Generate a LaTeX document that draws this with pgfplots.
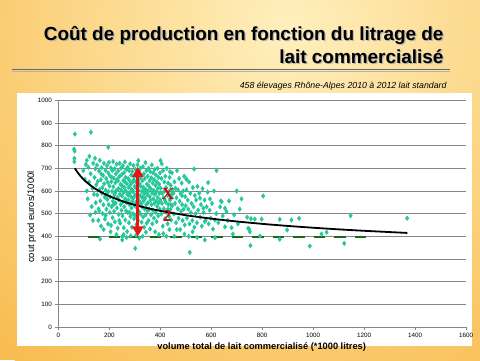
\documentclass[border=0pt]{standalone}
\usepackage{pgfplots}
\pgfplotsset{compat=1.18}
\usepackage{fontspec}
\setmainfont{Liberation Sans}
\newfontfamily\seriffont{Liberation Serif}
\usetikzlibrary{arrows.meta}
\definecolor{turq}{RGB}{38,200,155}
\definecolor{dgreen}{RGB}{25,105,25}
\definecolor{gridgray}{RGB}{134,134,134}
\definecolor{bgorange}{RGB}{248,188,80}
\definecolor{bglight}{RGB}{255,240,190}
\definecolor{arrred}{RGB}{235,20,20}
\definecolor{txtred}{RGB}{200,10,10}
\pgfplotsset{myframe/.style={
  at={(58.3bp,33bp)}, anchor=south west,
  scale only axis, width=407.7bp, height=226.7bp,
  xmin=0, xmax=1600, ymin=0, ymax=1000, clip=false}}
\begin{document}
\begin{tikzpicture}[x=1bp,y=1bp]
\begin{scope}
\clip (0,0) rectangle (480,360);
\fill[bgorange] (0,0) rectangle (480,360);
\shade[inner color=bglight, outer color=bgorange] (290,330) circle (430);
\end{scope}
% title
\node[anchor=base east, font=\bfseries\fontsize{19}{20}\selectfont, text=black!30] at (448.2,318.8) {Coût de production en fonction du litrage de};
\node[anchor=base east, font=\bfseries\fontsize{19}{20}\selectfont, text=black!30] at (448.2,295.8) {lait commercialisé};
\node[anchor=base east, font=\bfseries\fontsize{19}{20}\selectfont] at (447,320) {Coût de production en fonction du litrage de};
\node[anchor=base east, font=\bfseries\fontsize{19}{20}\selectfont] at (447,297) {lait commercialisé};
\draw[line width=1.4bp, black!60] (12,290.6) -- (450,290.6);
\draw[line width=0.9bp, black!30] (12,289.0) -- (450,289.0);
\node[anchor=base east, font=\itshape\fontsize{8.8}{10}\selectfont] at (450,272) {458 élevages Rhône-Alpes 2010 à 2012 lait standard};
\fill[white] (17,14) rectangle (472,267);
\node[rotate=90, font=\fontsize{9.5}{10}\selectfont] at (31.7,143) {cout prod euros/1000l};
\node[font=\bfseries\fontsize{9.3}{10}\selectfont] at (261.7,13) {volume total de lait commercialisé (*1000 litres)};
\begin{axis}[
  myframe,
  xtick={0,200,...,1600}, ytick={0,100,...,1000},
  axis x line=bottom, axis y line=left,
  axis line style={-, gridgray, line width=0.8bp},
  tick align=outside, major tick length=3bp,
  tick style={gridgray, line width=0.8bp},
  ymajorgrids, grid style={gridgray, line width=0.8bp},
  tick label style={font=\fontsize{6.3}{7}\selectfont},
  /pgf/number format/assume math mode=true,
  /pgf/number format/1000 sep={},
]
\addplot[only marks, mark=diamond*, mark size=2.3bp, color=turq] coordinates {
(65,851)(128,859)(62,784)(64,776)(63,744)(63,729)(196,793)(122,753)(144,744)(314,734)(401,734)(533,697)(621,690)(438,685)(503,651)(588,637)(700,600)(719,565)(804,578)(741,484)(771,476)(798,476)(869,475)(915,472)(945,479)(745,435)(898,428)(869,387)(791,401)(754,359)(987,357)(516,329)(575,384)(615,394)(503,653)(569,524)(556,568)(595,565)(638,556)(670,556)(654,524)(680,438)(654,442)(615,472)(575,465)(1147,491)(1369,480)(1033,410)(1053,418)(1122,369)(660,509)(641,553)(756,478)(749,432)(752,420)(302,347)(164,388)(251,384)(251,398)
(98,690)(104,652)(108,717)(112,600)(115,565)(118,705)(121,640)(125,494)(127,676)(131,531)(134,612)(137,722)(140,585)(142,660)(145,698)(147,548)(149,627)(112,735)(136,470)(146,506)
(152,714)(153,583)(155,642)(157,470)(158,521)(160,688)(162,606)(163,735)(165,556)(167,650)(168,445)(170,702)(171,590)(173,615)(174,500)(176,668)(177,539)(179,722)(180,632)(182,573)(183,476)(185,691)(186,604)(188,655)(189,520)(191,712)(192,563)(194,638)(195,455)(196,680)(197,597)(198,540)(199,726)(178,430)(186,492)(161,512)(190,585)(169,675)
(201,622)(202,505)(203,667)(204,574)(206,702)(207,448)(208,641)(209,530)(211,598)(212,690)(213,482)(214,555)(215,730)(216,618)(218,656)(219,510)(220,582)(221,698)(222,464)(224,636)(225,547)(226,676)(227,602)(229,718)(230,525)(231,651)(232,572)(233,436)(235,688)(236,611)(237,497)(238,560)(240,664)(241,722)(242,585)(243,458)(244,630)(245,540)(246,700)(247,605)(248,515)(249,672)(250,578)(205,420)(228,408)(239,470)(217,540)(234,645)(223,590)(210,660)
(251,623)(252,490)(253,711)(254,552)(255,646)(256,594)(257,438)(258,681)(259,530)(260,615)(261,728)(262,566)(263,472)(264,660)(265,600)(266,512)(267,695)(268,548)(269,632)(270,421)(271,585)(272,705)(273,505)(274,655)(275,560)(276,615)(277,460)(278,690)(279,540)(280,645)(281,592)(282,720)(283,488)(284,628)(285,575)(286,670)(287,525)(288,607)(289,440)(290,686)(291,556)(292,640)(293,500)(294,598)(295,712)(296,570)(297,478)(298,662)(299,536)(300,620)(256,408)(268,395)(284,402)(262,640)(274,582)(288,550)(296,650)(266,560)(280,505)(292,600)
(301,582)(302,493)(303,695)(304,548)(305,640)(306,452)(307,612)(308,680)(309,525)(310,590)(311,715)(312,565)(313,470)(314,650)(315,602)(316,510)(317,685)(318,555)(319,632)(320,430)(321,580)(322,700)(323,498)(324,620)(325,545)(326,668)(327,462)(328,598)(329,530)(330,645)(331,575)(332,707)(333,485)(334,617)(335,556)(336,676)(337,440)(338,590)(339,520)(340,655)(341,568)(342,725)(343,495)(344,606)(345,540)(346,690)(347,458)(348,630)(349,583)(350,512)(305,405)(318,392)(331,400)(344,418)(309,555)(323,660)(337,605)(314,540)(328,572)(346,600)
(351,665)(352,548)(353,598)(354,470)(355,700)(356,620)(357,520)(358,645)(359,575)(360,432)(361,685)(362,560)(363,610)(364,495)(365,658)(366,540)(367,715)(368,590)(369,455)(370,635)(371,515)(372,680)(373,565)(374,602)(375,480)(376,650)(377,545)(378,695)(379,585)(380,420)(381,625)(382,505)(383,670)(384,555)(385,598)(386,465)(387,640)(388,532)(389,700)(390,572)(391,612)(392,490)(393,660)(394,548)(395,408)(396,630)(397,590)(398,520)(399,680)(400,560)
(402,612)(404,498)(405,655)(407,545)(408,590)(410,445)(411,690)(413,570)(414,522)(416,640)(417,600)(419,478)(420,665)(422,550)(423,615)(425,505)(426,700)(428,580)(429,455)(431,635)(432,540)(434,598)(435,488)(437,660)(438,560)(440,518)(441,625)(443,472)(444,585)(446,680)(447,535)(449,605)(412,412)(424,400)(436,430)(442,540)(418,560)(430,520)(445,570)(406,720)
(452,590)(454,498)(456,640)(458,545)(460,612)(462,460)(464,570)(466,690)(468,522)(470,605)(472,480)(474,655)(476,555)(478,430)(480,588)(482,510)(484,635)(486,540)(488,470)(490,600)(492,520)(494,665)(496,450)(498,575)(500,535)(455,400)(470,520)(485,580)(465,430)(495,410)
(503,605)(505,480)(508,560)(510,520)(513,640)(515,455)(518,590)(520,505)(523,545)(526,470)(528,615)(531,530)(534,440)(536,580)(539,500)(541,560)(544,460)(546,620)(549,515)(512,400)(527,420)(545,395)
(553,590)(557,485)(560,540)(563,445)(566,610)(570,505)(574,560)(578,470)(582,530)(586,595)(590,455)(594,515)(598,480)(603,545)(607,432)(611,600)(620,500)(628,460)(635,530)(645,490)
(665,470)(690,495)(705,455)(712,520)(685,410)
};
% dashed reference line
\addplot[dgreen, line width=2.8bp, dash pattern=on 11.5bp off 9bp] coordinates {(117,397)(1219,397)};
\end{axis}
\begin{axis}[myframe, hide axis]
% trend line
\addplot[black, line width=1.8bp, smooth] coordinates {
(65,700)(80,675.5)(100,650)(130,621.5)(160,599.8)(200,577.2)(250,555.5)(300,538.5)(350,524.4)(400,512.5)(500,493.2)(600,478)(700,465.6)(800,455)(900,445.9)(1000,437.9)(1100,430.8)(1200,424.4)(1370,414.9)
};
% red arrow
\addplot[arrred, line width=3.2bp, {Triangle[length=10bp,width=11bp]}-{Triangle[length=10bp,width=11bp]}] coordinates {(312,400)(312,706)};
\node[text=txtred, font=\seriffont\bfseries\fontsize{17}{17}\selectfont] at (axis cs:430,587) {X};
\node[text=txtred, font=\seriffont\bfseries\fontsize{17}{17}\selectfont] at (axis cs:427,490) {2};
\end{axis}
\end{tikzpicture}
\end{document}
